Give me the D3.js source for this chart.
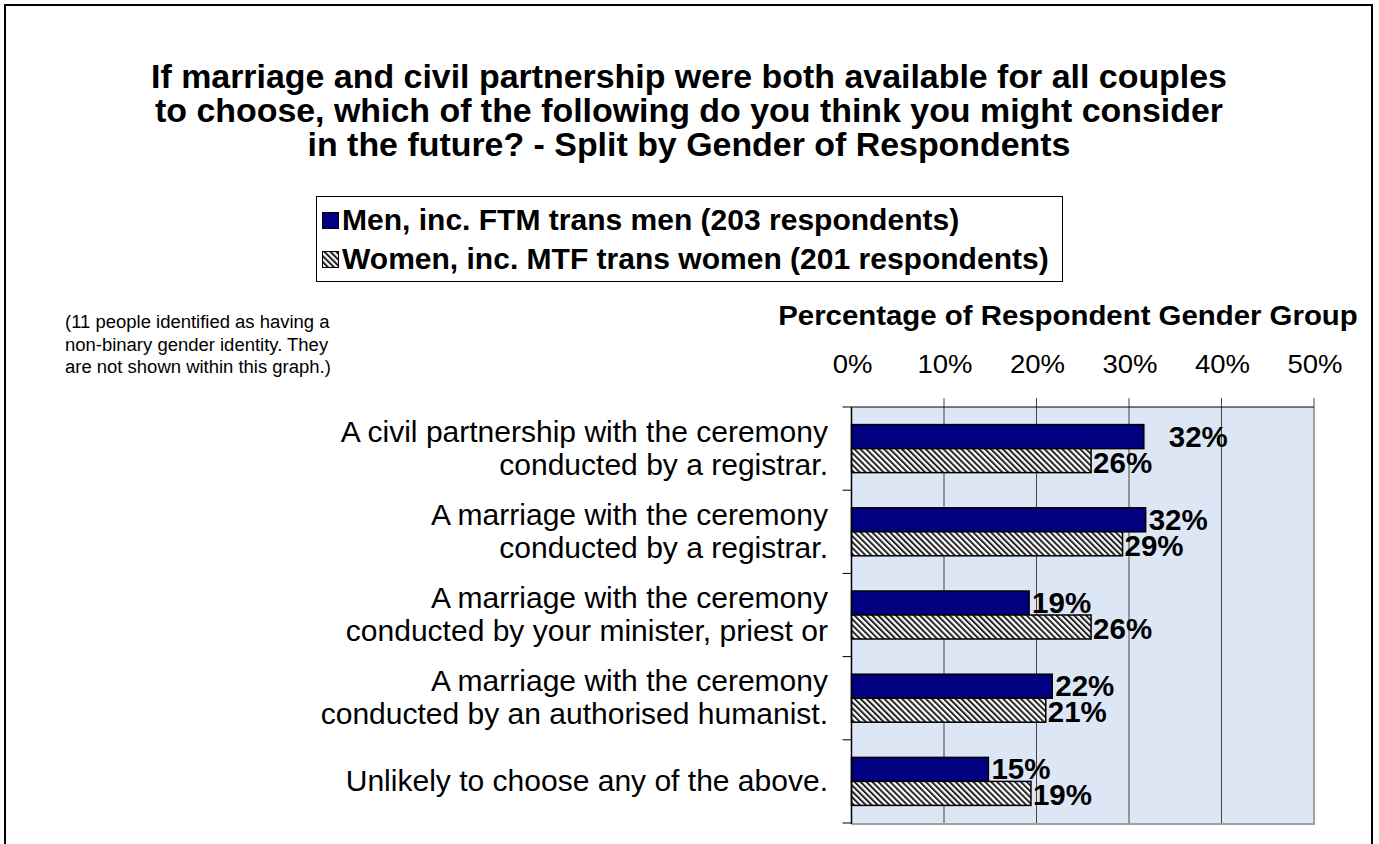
<!DOCTYPE html>
<html><head><meta charset="utf-8">
<script src="https://cdn.jsdelivr.net/npm/d3@7"></script>
<style>
body{margin:0;background:#fff;}
svg text{font-family:Arial,"Liberation Sans",sans-serif;fill:#000;}
</style></head>
<body><svg id="c" width="1379" height="844"></svg>
<script>
const categories = [
  ["A civil partnership with the ceremony","conducted by a registrar."],
  ["A marriage with the ceremony","conducted by a registrar."],
  ["A marriage with the ceremony","conducted by your minister, priest or"],
  ["A marriage with the ceremony","conducted by an authorised humanist."],
  ["Unlikely to choose any of the above."]
];
const seriesNames = ["Men, inc. FTM trans men (203 respondents)","Women, inc. MTF trans women (201 respondents)"];
const menValues = [31.6, 31.8, 19.2, 21.7, 14.8];
const womenValues = [25.9, 29.3, 25.9, 21.0, 19.4];
const menLabels = ["32%","32%","19%","22%","15%"];
const womenLabels = ["26%","29%","26%","21%","19%"];
const tickValues = [0,10,20,30,40,50];
const titleLines = ["If marriage and civil partnership were both available for all couples","to choose, which of the following do you think you might consider","in the future? - Split by Gender of Respondents"];
const noteLines = ["(11 people identified as having a","non-binary gender identity. They","are not shown within this graph.)"];
const axisTitle = "Percentage of Respondent Gender Group";

const S = 1.05; // horizontal stretch of text
const svg = d3.select("#c");
function stext(g, x, y, txt, size, weight, anchor, s){
  return g.append("text").attr("transform",`translate(${x},${y}) scale(${s||S},1)`)
    .attr("font-size",size).attr("font-weight",weight||"normal")
    .attr("text-anchor",anchor||"start").text(txt);
}

// defs
const defs = svg.append("defs");
const pat = defs.append("pattern").attr("id","hatch").attr("patternUnits","userSpaceOnUse")
  .attr("width",4.2).attr("height",4.2).attr("patternTransform","rotate(-45)");
pat.append("rect").attr("width",4.2).attr("height",4.2).attr("fill","#fff");
pat.append("rect").attr("width",2).attr("height",4.2).attr("fill","#222");

// outer frame
svg.append("rect").attr("x",5).attr("y",5).attr("width",1367).attr("height",860)
  .attr("fill","none").attr("stroke","#000").attr("stroke-width",2);

// title
titleLines.forEach((t,i)=>stext(svg, 689, 88+i*34, t, 32.3, "bold", "middle"));

// legend
const lg = svg.append("g");
lg.append("rect").attr("x",316.5).attr("y",196.5).attr("width",746).attr("height",85)
  .attr("fill","#fff").attr("stroke","#000").attr("stroke-width",1);
const swFill = ["#000080","url(#hatch)"];
seriesNames.forEach((n,i)=>{
  lg.append("rect").attr("x",322.5).attr("y",212.5+i*39).attr("width",16).attr("height",16)
    .attr("fill",swFill[i]).attr("stroke","#000").attr("stroke-width",1);
  stext(lg, 342, 230+i*39, n, 28.6, "bold");
});

// note
noteLines.forEach((t,i)=>stext(svg, 65, 328+i*22.5, t, 17.6, "normal"));

// scales
const x = d3.scaleLinear().domain([0,50]).range([851.5,1314]);
const y = d3.scaleBand().domain(categories.map((d,i)=>i)).range([407,823]).paddingInner(0);
const barH = 24;

// axis title and tick labels
stext(svg, 1068, 325, axisTitle, 28, "bold", "middle");
tickValues.forEach(v=>stext(svg, x(v)+1, 373, v+"%", 26.2, "normal", "middle"));

// plot background
svg.append("rect").attr("x",x(0)).attr("y",407).attr("width",x(50)-x(0)).attr("height",416)
  .attr("fill","#dce6f4");
// gridlines (and ticks above)
svg.append("g").selectAll("line").data(tickValues).join("line")
  .attr("x1",d=>x(d)).attr("x2",d=>x(d)).attr("y1",398).attr("y2",823)
  .attr("stroke",d=>d===0?"none":"#444").attr("stroke-width",1);
// right & bottom gray border
svg.append("path").attr("d",`M${x(50)},407V${824}H${x(0)}`).attr("fill","none")
  .attr("stroke","#a0a0a0").attr("stroke-width",2);
// top axis line
svg.append("line").attr("x1",x(0)).attr("x2",x(50)).attr("y1",407).attr("y2",407)
  .attr("stroke","#000").attr("stroke-width",1);

// bars
const gBars = svg.append("g");
categories.forEach((c,i)=>{
  const y0 = y(i) + (y.bandwidth()-2*barH)/2;
  gBars.append("rect").attr("x",x(0)).attr("y",y0).attr("width",x(menValues[i])-x(0)).attr("height",barH)
    .attr("fill","#000080").attr("stroke","#000").attr("stroke-width",1.5);
  gBars.append("rect").attr("x",x(0)).attr("y",y0+barH).attr("width",x(womenValues[i])-x(0)).attr("height",barH)
    .attr("fill","url(#hatch)").attr("stroke","#000").attr("stroke-width",1.5);
  const mOff = i===0 ? 25 : 3;
  stext(gBars, x(menValues[i])+mOff, y0+barH/2+10, menLabels[i], 29.5, "bold", "start", 1);
  stext(gBars, x(womenValues[i])+2, y0+barH*1.5+12, womenLabels[i], 29.5, "bold", "start", 1);
});

// left axis
svg.append("line").attr("x1",x(0)).attr("x2",x(0)).attr("y1",407).attr("y2",824)
  .attr("stroke","#000").attr("stroke-width",1.5);
const bounds = categories.map((d,i)=>y(i)).concat([823]);
svg.append("g").selectAll("line").data(bounds).join("line")
  .attr("x1",x(0)-9).attr("x2",x(0)).attr("y1",d=>d).attr("y2",d=>d)
  .attr("stroke","#000").attr("stroke-width",1);

// category labels
categories.forEach((lines,i)=>{
  const cy = y(i)+y.bandwidth()/2;
  const n = lines.length;
  lines.forEach((t,j)=>{
    stext(svg, 828, cy + (j-(n-1)/2)*33 + 9.5, t, 28.6, "normal", "end");
  });
});
</script></body></html>
